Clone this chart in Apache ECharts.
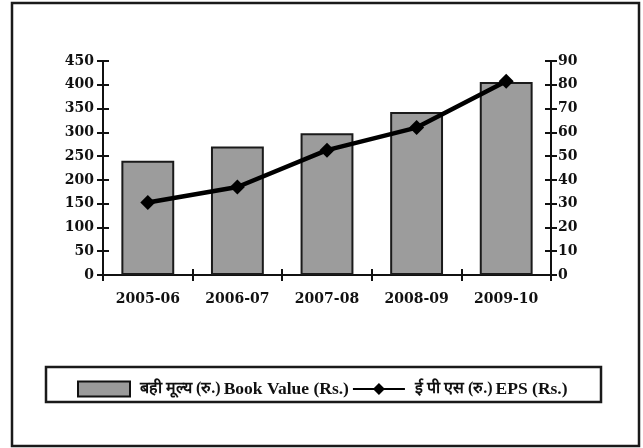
<!DOCTYPE html>
<html><head><meta charset="utf-8">
<script src="https://cdn.jsdelivr.net/npm/echarts@6/dist/echarts.min.js"></script>
<style>html,body{margin:0;padding:0;background:#fff}#c{width:643px;height:448px}</style>
</head><body><div id="c"></div>
<script>
var categories = ['2005-06', '2006-07', '2007-08', '2008-09', '2009-10'];
var bookValue = [240, 270, 298, 343, 406];
var eps = [30.5, 37, 52.5, 62, 81.5];
var leftTicks = {min: 0, max: 450, interval: 50};
var rightTicks = {min: 0, max: 90, interval: 10};
var barName = 'बही मूल्य (रु.) Book Value (Rs.)';
var lineName = 'ई पी एस (रु.) EPS (Rs.)';
var legendParts = {};
legendParts[barName] = ['बही मूल्य (रु.)', 'Book Value (Rs.)'];
legendParts[lineName] = ['ई पी एस (रु.)', 'EPS (Rs.)'];

var serif = "'Liberation Serif', serif";
var axisFont = "'DejaVu Serif', serif";
var axisLabelStyle = {fontFamily: axisFont, fontSize: 14, fontWeight: 'bold', color: '#111'};
var tickStyle = {color: '#111', width: 2};

function tickOnlyY(pos, t) {
  return {type: 'value', min: t.min, max: t.max, interval: t.interval, position: pos,
    splitLine: {show: false}, axisLine: {show: false}, axisLabel: {show: false},
    axisTick: {show: true, inside: true, length: 6, lineStyle: tickStyle}};
}

var chart = echarts.init(document.getElementById('c'), null, {renderer: 'canvas'});
chart.setOption({
  backgroundColor: '#fff',
  animation: false,
  graphic: [
    {type: 'rect', shape: {x: 12, y: 3, width: 627, height: 443}, style: {fill: 'none', stroke: '#1a1a1a', lineWidth: 2.5}, z: -1},
    {type: 'rect', shape: {x: 46, y: 367, width: 555, height: 35}, style: {fill: 'none', stroke: '#1a1a1a', lineWidth: 2.5}, z: -1}
  ],
  grid: {left: 103, right: 92, top: 61, bottom: 173, containLabel: false},
  legend: {
    left: 72, top: 375,
    itemWidth: 52, itemHeight: 15, itemGap: 3,
    formatter: function (n) { var p = legendParts[n]; return '{hi|' + p[0] + '} {en|' + p[1] + '}'; },
    textStyle: {
      fontFamily: serif, color: '#111', padding: [0, 0, 0, 5],
      rich: {
        hi: {fontFamily: serif, fontSize: 16, fontWeight: 'bold', color: '#111'},
        en: {fontFamily: serif, fontSize: 17.5, fontWeight: 'bold', color: '#111'}
      }
    },
    data: [
      {name: barName, icon: 'rect', itemStyle: {color: '#9a9a9a', borderColor: '#111', borderWidth: 2}},
      {name: lineName}
    ]
  },
  xAxis: [
    {type: 'category', data: categories,
     axisLine: {lineStyle: {color: '#111', width: 2}},
     axisTick: {show: true, length: 6, lineStyle: tickStyle},
     axisLabel: Object.assign({margin: 17}, axisLabelStyle)},
    {type: 'category', data: categories, position: 'bottom',
     axisLine: {show: false}, axisLabel: {show: false},
     axisTick: {show: true, inside: true, length: 6, lineStyle: tickStyle}}
  ],
  yAxis: [
    {type: 'value', min: leftTicks.min, max: leftTicks.max, interval: leftTicks.interval,
     splitLine: {show: false},
     axisLine: {show: true, lineStyle: {color: '#111', width: 2}},
     axisTick: {show: true, length: 6, lineStyle: tickStyle},
     axisLabel: Object.assign({margin: 9}, axisLabelStyle)},
    {type: 'value', min: rightTicks.min, max: rightTicks.max, interval: rightTicks.interval,
     position: 'right', splitLine: {show: false},
     axisLine: {show: true, lineStyle: {color: '#111', width: 2}},
     axisTick: {show: true, length: 6, lineStyle: tickStyle},
     axisLabel: Object.assign({margin: 7}, axisLabelStyle)},
    tickOnlyY('left', leftTicks),
    tickOnlyY('right', rightTicks)
  ],
  series: [
    {name: barName, type: 'bar', yAxisIndex: 0, data: bookValue, barWidth: '59%',
     itemStyle: {color: '#9c9c9c', borderColor: '#1a1a1a', borderWidth: 2}},
    {name: lineName, type: 'line', yAxisIndex: 1, data: eps,
     symbol: 'diamond', symbolSize: 15, lineStyle: {color: '#000', width: 4.5},
     itemStyle: {color: '#000'}, z: 5}
  ]
});
</script></body></html>
